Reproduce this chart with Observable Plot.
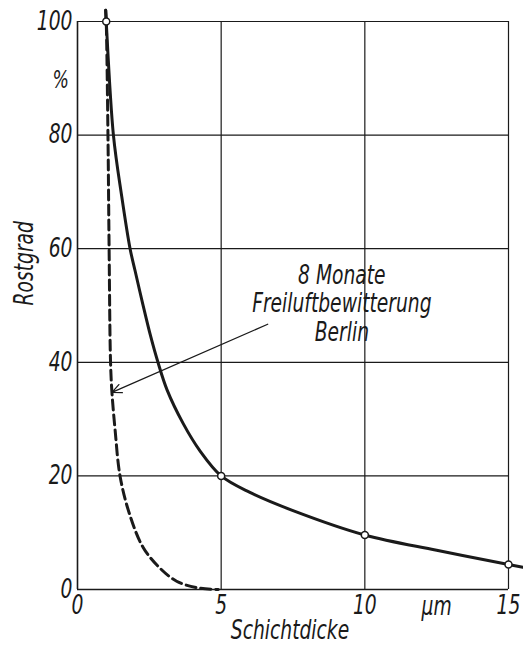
<!DOCTYPE html>
<html>
<head>
<meta charset="utf-8">
<script src="https://cdn.jsdelivr.net/npm/d3@7"></script>
<script src="https://cdn.jsdelivr.net/npm/@observablehq/plot@0.6"></script>
<style>
  html, body { margin: 0; padding: 0; background: #fff; }
  #chart svg { display: block; }
</style>
</head>
<body>
<div id="chart"></div>
<script>
// --- data ---
const solidX = [0.98, 1.0, 1.25, 1.54, 1.83, 2.0, 2.27, 2.55, 2.8, 3.12, 3.68, 4.25, 5, 6, 7.5, 10, 12.5, 15, 15.5];
const solidY = [102, 100, 80, 69.2, 60, 56.2, 50.3, 44.5, 40, 35.1, 29.2, 24.5, 20, 17.1, 13.9, 9.6, 6.9, 4.4, 3.9];
const dashedX = [0.98, 1.0, 1.06, 1.1, 1.15, 1.2, 1.31, 1.48, 1.81, 2.28, 2.86, 3.45, 4.16, 4.9];
const dashedY = [102, 100, 80, 60, 40, 34.6, 28, 20, 13.3, 7.45, 3.8, 1.46, 0.3, 0];
const markerX = [1.0, 5, 10, 15];
const markerY = [100, 20, 9.6, 4.4];
const xTicks = [0, 5, 10, 15];
const yTicks = [0, 20, 40, 60, 80, 100];
const xGrid = [5, 10, 15];
const yGrid = [20, 40, 60, 80, 100];
const noteLines = ["8 Monate", "Freiluftbewitterung", "Berlin"];
const noteX = [9.2];
const noteY = [50.4];
const arrowFrom = [6.62, 46.7];
const arrowTo = [1.2, 34.7];
const xLabel = "Schichtdicke";
const yLabel = "Rostgrad";
const xUnit = "µm";
const xUnitAt = [12.5];
const yUnit = "%";
const yUnitAt = [89.7];

const solid = solidX.map((x, i) => ({x, y: solidY[i]}));
const dashed = dashedX.map((x, i) => ({x, y: dashedY[i]}));
const markers = markerX.map((x, i) => ({x, y: markerY[i]}));

const FONT = "'DejaVu Sans Condensed', 'DejaVu Sans', sans-serif";
const INK = "#1a1a1a";
const NARROW = 0.8; // horizontal squeeze to mimic the narrow drafting lettering

const chart = Plot.plot({
  width: 523,
  height: 647,
  marginLeft: 77,
  marginRight: 15,
  marginTop: 21,
  marginBottom: 58,
  x: {domain: [0, 15]},
  y: {domain: [0, 100]},
  style: {fontFamily: FONT, fontStyle: "italic", color: INK, background: "#fff", overflow: "visible"},
  marks: [
    Plot.ruleX(xGrid, {y1: 0, y2: 100, stroke: INK, strokeWidth: 1.2}),
    Plot.ruleY(yGrid, {x1: 0, x2: 15, stroke: INK, strokeWidth: 1.2}),
    Plot.ruleX([0], {y1: 0, y2: 100, stroke: INK, strokeWidth: 1.6}),
    Plot.ruleY([0], {x1: 0, x2: 15, stroke: INK, strokeWidth: 1.6}),
    Plot.axisY(yTicks, {tickSize: 0, tickPadding: 5, fontSize: 26, label: null, fill: INK}),
    Plot.axisX(xTicks, {tickSize: 0, tickPadding: 6, fontSize: 26, label: null, fill: INK}),
    Plot.text([yUnit], {y: yUnitAt, frameAnchor: "left", dx: -25, fontSize: 24, fill: INK}),
    Plot.text([xUnit], {x: xUnitAt, frameAnchor: "bottom", dy: 25, fontSize: 26, fill: INK}),
    Plot.text([yLabel], {frameAnchor: "left", dx: -53, rotate: -90, fontSize: 26, fill: INK}),
    Plot.text([xLabel], {frameAnchor: "bottom", dy: 49, dx: -3, fontSize: 26, fill: INK}),
    Plot.line(dashed, {x: "x", y: "y", curve: "catmull-rom", stroke: INK, strokeWidth: 3, strokeDasharray: "10,5"}),
    Plot.line(solid, {x: "x", y: "y", curve: "catmull-rom", stroke: INK, strokeWidth: 3}),
    Plot.dot(markers, {x: "x", y: "y", r: 3.5, fill: "#fff", stroke: INK, strokeWidth: 1.5}),
    Plot.arrow([{x1: arrowFrom[0], y1: arrowFrom[1], x2: arrowTo[0], y2: arrowTo[1]}],
      {x1: "x1", y1: "y1", x2: "x2", y2: "y2", stroke: INK, strokeWidth: 1.3, headLength: 12, headAngle: 50}),
    Plot.text([noteLines.join("\n")], {x: noteX, y: noteY, fontSize: 26, lineHeight: 1.1, fill: INK, textAnchor: "middle"})
  ]
});

// squeeze every text horizontally around its own anchor point (vertical offsets untouched)
d3.select(chart).selectAll("text").each(function() {
  const t = this.getAttribute("transform") || "";
  const xa = this.getAttribute("x");
  const x = xa != null && !isNaN(+xa) ? +xa : 0;
  if (xa != null && !isNaN(+xa)) this.removeAttribute("x");
  this.setAttribute("transform", `${t} translate(${x},0) scale(${NARROW},1)`);
});

document.getElementById("chart").appendChild(chart);
</script>
</body>
</html>
